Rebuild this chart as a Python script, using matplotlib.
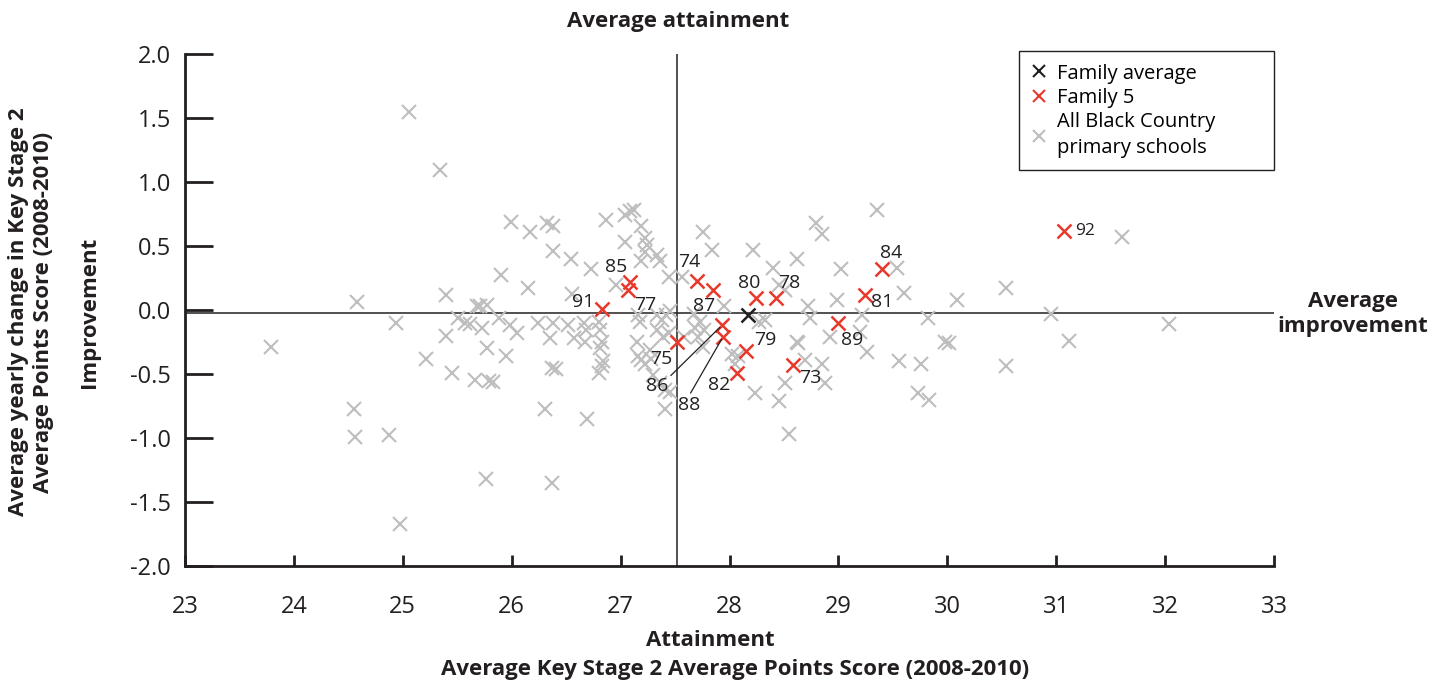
import matplotlib
matplotlib.use("Agg")
import matplotlib.pyplot as plt
from matplotlib.lines import Line2D

plt.rcParams['font.family'] = ['Open Sans', 'DejaVu Sans']

# all Black Country primary schools (attainment, improvement)
school_x = [23.79, 24.58, 24.94, 24.55, 24.56, 24.87, 24.97, 25.06, 25.34, 25.21,
            25.40, 25.40, 25.45, 25.51, 25.57, 25.62, 25.68, 25.71, 25.77, 25.73,
            25.77, 25.66, 25.79, 25.83, 25.76, 25.88, 25.90, 25.95, 25.98, 26.05,
            25.99, 26.17, 26.15, 26.24, 26.32, 26.38, 26.38, 26.38, 26.35, 26.37,
            26.41, 26.31, 26.37, 26.54, 26.55, 26.52, 26.57, 26.66, 26.68, 26.67,
            26.73, 26.69, 26.87, 27.04, 27.09, 27.12, 27.19, 27.04, 27.22, 27.24,
            27.22, 27.33, 27.36, 27.19, 27.44, 27.56, 26.96, 27.16, 27.18, 27.33,
            27.38, 27.42, 27.45, 27.33, 27.39, 27.44, 26.80, 26.81, 26.83, 26.81,
            26.84, 26.83, 26.80, 27.15, 27.16, 27.19, 27.22, 27.27, 27.28, 27.30,
            27.36, 27.41, 27.45, 27.41, 27.76, 27.84, 27.58, 27.67, 27.73, 27.68,
            27.77, 27.71, 27.76, 27.95, 28.22, 28.79, 28.85, 28.62, 28.40, 28.45,
            28.51, 28.27, 28.33, 28.02, 28.08, 28.05, 28.23, 28.45, 28.51, 28.62,
            28.63, 28.69, 28.72, 28.74, 28.85, 28.88, 28.92, 29.02, 28.99, 28.55,
            29.35, 29.54, 29.60, 30.09, 29.22, 29.82, 29.20, 29.26, 29.98, 30.02,
            29.56, 29.76, 29.73, 29.83, 30.54, 30.54, 30.95, 31.12, 31.60, 32.04]
school_y = [-0.29, 0.06, -0.10, -0.77, -0.99, -0.98, -1.67, 1.55, 1.09, -0.385,
            0.12, -0.20, -0.49, -0.065, -0.10, -0.11, 0.03, 0.03, 0.04, -0.14,
            -0.30, -0.55, -0.555, -0.56, -1.32, -0.065, 0.27, -0.36, -0.12, -0.18,
            0.685, 0.61, 0.17, -0.10, 0.68, 0.66, 0.46, -0.10, -0.215, -0.45,
            -0.46, -0.77, -1.35, 0.40, 0.125, -0.12, -0.22, -0.10, -0.16, -0.25,
            0.32, -0.85, 0.70, 0.74, 0.77, 0.78, 0.66, 0.535, 0.56, 0.51,
            0.455, 0.43, 0.38, 0.38, 0.255, 0.26, 0.195, -0.04, -0.09, -0.04,
            -0.08, -0.04, -0.01, -0.16, -0.21, -0.18, -0.09, -0.16, -0.25, -0.30,
            -0.40, -0.44, -0.49, -0.25, -0.36, -0.39, -0.42, -0.31, -0.38, -0.51,
            -0.57, -0.625, -0.64, -0.77, 0.61, 0.47, -0.21, -0.03, -0.09, -0.14,
            -0.16, -0.21, -0.29, 0.03, 0.47, 0.68, 0.59, 0.40, 0.33, 0.195,
            0.16, -0.09, -0.08, -0.34, -0.36, -0.42, -0.65, -0.71, -0.57, -0.25,
            -0.26, -0.39, 0.03, -0.065, -0.42, -0.57, -0.21, 0.32, 0.08, -0.97,
            0.78, 0.33, 0.13, 0.08, -0.04, -0.065, -0.17, -0.33, -0.25, -0.26,
            -0.40, -0.42, -0.65, -0.70, 0.17, -0.44, -0.03, -0.24, 0.57, -0.11]

# Family 5 schools
fam_ids = ['73', '74', '75', '77', '78', '79', '80', '81', '82',
           '84', '85', '86', '87', '88', '89', '91', '92']
fam_x = [28.58, 27.70, 27.52, 27.07, 28.43, 28.15, 28.24, 29.24, 28.07,
         29.40, 27.09, 27.93, 27.85, 27.94, 29.00, 26.83, 31.07]
fam_y = [-0.43, 0.23, -0.25, 0.16, 0.09, -0.32, 0.09, 0.12, -0.49,
         0.32, 0.22, -0.12, 0.16, -0.21, -0.10, 0.01, 0.62]

family_avg = (28.17, -0.04)
avg_attainment = 27.52
avg_improvement = -0.026

GREY = '#bebebe'
RED = '#e8392d'
DARK = '#231f20'

fig = plt.figure(figsize=(14.45, 6.82), dpi=100)
ax = fig.add_axes([185 / 1445, 1 - 566 / 682, 1089 / 1445, 512 / 682])

ax.plot(school_x, school_y, 'x', color=GREY, ms=10, mew=1.5, zorder=2)
ax.plot(fam_x, fam_y, 'x', color=RED, ms=10, mew=1.8, zorder=3)
ax.plot([family_avg[0]], [family_avg[1]], 'x', color=DARK, ms=10, mew=1.8, zorder=4)

ax.axhline(avg_improvement, color=DARK, lw=1.1, zorder=1)
ax.axvline(avg_attainment, color=DARK, lw=1.1, zorder=1)

# label offsets in pixels from the marker
offsets = {'73': (18, -13), '74': (-8, 19), '75': (-16, -17), '77': (17, -15),
           '78': (13, 15), '79': (19, 11), '80': (-6, 15), '81': (18, -7),
           '82': (-18, -12), '84': (9, 16), '85': (-14, 15), '86': (-65, -61),
           '87': (-9, -16), '88': (-34, -68), '89': (14, -17), '91': (-19, 7),
           '92': (21, 0)}
for sid, x, y in zip(fam_ids, fam_x, fam_y):
    dx, dy = offsets[sid]
    kw = {}
    if sid == '86':
        kw['arrowprops'] = dict(arrowstyle='-', color=DARK, lw=0.9, shrinkA=0, shrinkB=2,
                                relpos=(1.0, 0.95))
    if sid == '88':
        kw['arrowprops'] = dict(arrowstyle='-', color=DARK, lw=0.9, shrinkA=0, shrinkB=2,
                                relpos=(0.5, 1.0))
    size = 12.5 if sid == '92' else 14
    ax.annotate(sid, (x, y), xytext=(dx, dy), textcoords='offset pixels',
                ha='center', va='center', fontsize=size, color=DARK, zorder=5, **kw)

ax.set_xlim(23, 33)
ax.set_ylim(-2.0, 2.0)
ax.set_xticks(range(23, 34))
ax.set_yticks([-2.0, -1.5, -1.0, -0.5, 0.0, 0.5, 1.0, 1.5, 2.0])
ax.set_yticklabels(['-2.0', '-1.5', '-1.0', '-0.5', '0.0', '0.5', '1.0', '1.5', '2.0'])
ax.spines['top'].set_visible(False)
ax.spines['right'].set_visible(False)
for s in ['left', 'bottom']:
    ax.spines[s].set_color(DARK)
    ax.spines[s].set_linewidth(2)
ax.tick_params(axis='y', direction='in', length=20, width=2, color=DARK,
               labelsize=17, pad=10, labelcolor=DARK)
ax.tick_params(axis='x', direction='in', length=8, width=2, color=DARK,
               labelsize=17, pad=21, labelcolor=DARK)

handles = [Line2D([], [], ls='none', marker='x', color=DARK, ms=8, mew=1.5),
           Line2D([], [], ls='none', marker='x', color=RED, ms=8, mew=1.5),
           Line2D([], [], ls='none', marker='x', color=GREY, ms=8, mew=1.5)]
leg = ax.legend(handles, ['Family average', 'Family 5', 'All Black Country\nprimary schools'],
                loc='upper left', bbox_to_anchor=(0.766, 0.5, 0.234, 0.505), mode='expand',
                borderaxespad=0, fontsize=14.5, fancybox=False, edgecolor=DARK,
                framealpha=1, handlelength=0.8, handletextpad=0.5, labelspacing=0.22,
                borderpad=0.6)
leg.get_frame().set_linewidth(1.0)
leg.get_texts()[2].set_linespacing(1.4)

bold = dict(fontsize=16, fontweight='bold', color=DARK, ha='center', va='center')
fig.text(678 / 1445, 1 - 22 / 682, 'Average attainment', **bold)
fig.text(710 / 1445, 1 - 640 / 682, 'Attainment', **bold)
fig.text(735 / 1445, 1 - 669 / 682, 'Average Key Stage 2 Average Points Score (2008-2010)', **bold)
fig.text(1353 / 1445, 1 - 314 / 682, 'Average\nimprovement', linespacing=1.3, **bold)
fig.text(31 / 1445, 1 - 312 / 682,
         'Average yearly change in Key Stage 2\nAverage Points Score (2008-2010)',
         rotation=90, linespacing=1.25, **bold)
fig.text(90 / 1445, 1 - 312 / 682, 'Improvement', rotation=90, **bold)

fig.savefig('out.png', dpi=100)
